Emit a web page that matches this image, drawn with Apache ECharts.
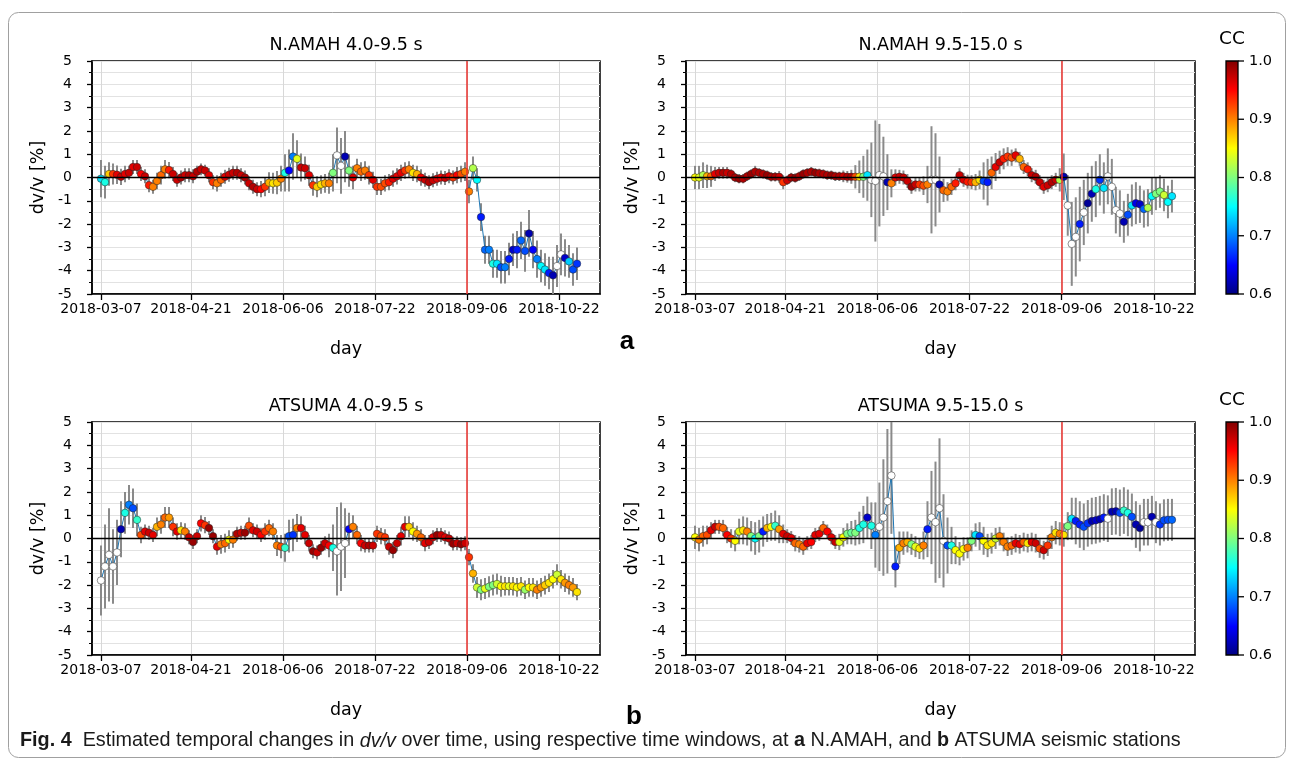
<!DOCTYPE html>
<html><head><meta charset="utf-8">
<script src="https://cdn.jsdelivr.net/npm/echarts@6/dist/echarts.min.js"></script>
<style>html,body{margin:0;padding:0;background:#fff}#c{width:1293px;height:764px}</style>
</head><body><div id="c"></div>
<script>
// x axis: days since 2018-03-07, one sample every 2 days
const startDate = '2018-03-07';
const days = [0,2,4,6,8,10,12,14,16,18,20,22,24,26,28,30,32,34,36,38,40,42,44,46,48,50,52,54,56,58,60,62,64,66,68,70,72,74,76,78,80,82,84,86,88,90,92,94,96,98,100,102,104,106,108,110,112,114,116,118,120,122,124,126,128,130,132,134,136,138,140,142,144,146,148,150,152,154,156,158,160,162,164,166,168,170,172,174,176,178,180,182,184,186,188,190,192,194,196,198,200,202,204,206,208,210,212,214,216,218,220,222,224,226,228,230,232,234,236,238];
const tickDays = [0,45,91,137,183,229];
const tickLabels = ['2018-03-07','2018-04-21','2018-06-06','2018-07-22','2018-09-06','2018-10-22'];
const eventDay = 183;
const ccMin = 0.6, ccMax = 1.0;
const ccTicks = ['1.0','0.9','0.8','0.7','0.6'];
const titles = ['N.AMAH 4.0-9.5 s','N.AMAH 9.5-15.0 s','ATSUMA 4.0-9.5 s','ATSUMA 9.5-15.0 s'];

// N.AMAH 4.0-9.5 s
const aL_v = [-0.05,-0.2,0.15,0.15,0.12,0.03,0.15,0.2,0.45,0.45,
0.15,0.05,-0.33,-0.4,-0.15,0.1,0.35,0.32,0.15,-0.1,
0.0,0.1,0.1,0.05,0.25,0.35,0.3,0.1,-0.2,-0.25,
-0.1,0.03,0.12,0.2,0.2,0.1,0.0,-0.25,-0.4,-0.5,
-0.5,-0.4,-0.22,-0.25,-0.22,-0.05,0.2,0.3,0.9,0.8,
0.43,0.4,0.1,-0.33,-0.4,-0.3,-0.25,-0.25,0.2,0.95,
0.5,0.9,0.3,0.0,0.4,0.25,0.3,0.1,-0.1,-0.4,
-0.4,-0.25,-0.2,-0.05,0.05,0.2,0.3,0.35,0.2,0.15,
0.0,-0.1,-0.2,-0.12,-0.05,0.0,-0.02,0.05,0.0,0.1,
0.15,0.25,-0.6,0.4,-0.1,-1.7,-3.1,-3.1,-3.7,-3.7,
-3.85,-3.85,-3.5,-3.1,-3.1,-2.7,-3.15,-2.4,-3.1,-3.5,
-3.8,-3.95,-4.1,-4.2,-3.8,-3.3,-3.45,-3.6,-3.95,-3.7];
const aL_cc = [0.74,0.76,0.87,0.93,0.96,0.97,0.96,0.97,0.96,0.97,
0.95,0.97,0.94,0.9,0.9,0.91,0.9,0.94,0.97,0.97,
0.98,0.97,0.98,0.97,0.98,0.97,0.97,0.96,0.93,0.9,
0.91,0.96,0.97,0.97,0.98,0.97,0.98,0.97,0.98,0.97,
0.95,0.93,0.88,0.86,0.87,0.9,0.76,0.65,0.7,0.84,
0.97,0.97,0.96,0.93,0.87,0.86,0.88,0.9,0.8,0.55,
0.55,0.62,0.8,0.96,0.9,0.91,0.9,0.93,0.96,0.93,
0.92,0.92,0.94,0.96,0.96,0.96,0.93,0.9,0.86,0.88,
0.95,0.97,0.98,0.97,0.96,0.95,0.97,0.95,0.93,0.95,
0.92,0.9,0.9,0.82,0.75,0.66,0.69,0.7,0.76,0.74,
0.68,0.7,0.66,0.63,0.66,0.69,0.68,0.62,0.65,0.7,
0.75,0.74,0.66,0.62,0.55,0.55,0.63,0.73,0.68,0.67];
const aL_err = [0.8,0.7,0.5,0.45,0.4,0.35,0.35,0.3,0.3,0.3,
0.3,0.3,0.3,0.3,0.35,0.4,0.4,0.35,0.3,0.3,
0.3,0.3,0.3,0.3,0.25,0.25,0.25,0.3,0.3,0.35,
0.3,0.3,0.3,0.3,0.3,0.3,0.3,0.3,0.3,0.3,
0.35,0.4,0.45,0.45,0.5,0.55,0.8,0.9,1.0,0.8,
0.6,0.5,0.45,0.45,0.45,0.4,0.4,0.45,0.8,1.2,
1.2,1.1,0.7,0.5,0.4,0.4,0.4,0.4,0.35,0.35,
0.35,0.35,0.35,0.35,0.35,0.35,0.35,0.35,0.35,0.35,
0.35,0.3,0.3,0.3,0.3,0.3,0.3,0.3,0.3,0.35,
0.35,0.4,0.5,0.5,0.5,0.6,0.6,0.6,0.6,0.6,
0.7,0.7,0.7,0.7,0.8,0.8,0.9,1.0,0.8,0.8,
0.7,0.7,0.7,0.8,0.9,0.9,0.8,0.7,0.7,0.7];

// N.AMAH 9.5-15.0 s
const aR_v = [0.0,0.0,0.1,0.05,0.05,0.15,0.2,0.2,0.2,0.15,
0.0,-0.05,-0.05,0.05,0.15,0.25,0.2,0.15,0.1,0.03,
0.03,0.03,-0.2,-0.12,0.0,-0.02,0.05,0.15,0.2,0.25,
0.2,0.18,0.15,0.1,0.1,0.05,0.05,0.05,0.03,0.03,
0.03,0.03,0.03,0.1,-0.1,-0.15,0.1,0.05,-0.2,-0.25,
0.0,0.03,0.0,-0.15,-0.4,-0.3,-0.3,-0.35,-0.3,-0.1,
-0.1,-0.3,-0.55,-0.6,-0.4,-0.25,0.1,-0.1,-0.18,-0.2,
-0.2,-0.1,-0.15,-0.2,0.2,0.45,0.65,0.8,0.9,0.85,
0.95,0.8,0.45,0.35,0.1,0.03,-0.2,-0.4,-0.33,-0.2,
-0.1,-0.1,0.03,-1.2,-2.85,-2.55,-2.0,-1.5,-1.1,-0.7,
-0.5,-0.1,-0.45,0.05,-0.4,-1.4,-1.55,-1.9,-1.6,-1.2,
-1.1,-1.15,-1.35,-1.3,-0.8,-0.7,-0.6,-0.75,-1.05,-0.8];
const aR_cc = [0.85,0.84,0.82,0.88,0.91,0.96,0.97,0.98,0.97,0.98,
0.98,0.99,0.98,0.98,0.99,0.98,0.98,0.98,0.99,0.98,
0.98,0.97,0.93,0.97,0.98,0.99,0.98,0.99,0.98,0.98,
0.99,0.98,0.98,0.98,0.99,0.98,0.98,0.97,0.98,0.98,
0.92,0.86,0.8,0.74,0.55,0.55,0.55,0.55,0.62,0.9,
0.96,0.97,0.97,0.97,0.99,0.97,0.93,0.92,0.9,0.55,
0.55,0.62,0.91,0.9,0.91,0.94,0.97,0.96,0.94,0.93,
0.88,0.86,0.68,0.66,0.91,0.96,0.97,0.94,0.93,0.92,
0.96,0.88,0.91,0.94,0.97,0.98,0.97,0.96,0.97,0.98,
0.97,0.82,0.62,0.55,0.55,0.55,0.66,0.55,0.61,0.62,
0.76,0.67,0.74,0.55,0.55,0.55,0.55,0.62,0.68,0.74,
0.64,0.63,0.69,0.82,0.75,0.8,0.8,0.83,0.75,0.74];
const aR_err = [0.5,0.5,0.55,0.5,0.45,0.3,0.25,0.25,0.25,0.2,
0.2,0.2,0.2,0.2,0.2,0.25,0.2,0.2,0.2,0.2,
0.2,0.25,0.3,0.2,0.2,0.2,0.2,0.2,0.2,0.2,
0.2,0.2,0.2,0.2,0.2,0.2,0.2,0.25,0.25,0.3,
0.5,0.7,0.9,1.1,1.6,2.6,2.2,1.7,1.2,0.6,
0.35,0.3,0.3,0.3,0.3,0.3,0.3,0.4,0.8,2.3,
2.0,1.2,0.5,0.4,0.35,0.3,0.3,0.3,0.3,0.3,
0.35,0.4,0.8,1.0,0.7,0.6,0.5,0.45,0.4,0.35,
0.3,0.3,0.3,0.3,0.3,0.3,0.3,0.3,0.3,0.3,
0.3,0.5,1.0,1.3,1.8,1.7,1.6,1.4,1.3,1.2,
1.2,1.1,1.1,1.2,1.2,1.0,1.0,0.9,0.9,0.9,
0.9,0.8,0.8,0.8,0.8,0.7,0.7,0.7,0.7,0.7];

// ATSUMA 4.0-9.5 s
const bL_v = [-1.8,-1.2,-0.7,-1.2,-0.6,0.4,1.1,1.45,1.3,0.8,
0.15,0.3,0.25,0.15,0.5,0.6,0.9,0.9,0.5,0.3,
0.35,0.3,0.05,-0.15,0.1,0.65,0.57,0.45,0.1,-0.35,
-0.25,-0.2,-0.05,-0.05,0.2,0.25,0.25,0.55,0.35,0.3,
0.15,0.3,0.45,0.3,-0.3,-0.35,-0.4,0.1,0.15,0.45,
0.45,0.15,-0.2,-0.55,-0.6,-0.4,-0.2,-0.3,-0.4,-0.55,
-0.35,-0.2,0.4,0.5,0.15,-0.2,-0.3,-0.3,-0.3,0.2,
0.1,0.05,-0.35,-0.5,-0.2,0.1,0.5,0.5,0.3,0.2,
0.05,-0.2,-0.15,0.05,0.15,0.15,0.05,0.0,-0.22,-0.2,
-0.25,-0.2,-0.8,-1.5,-2.1,-2.2,-2.15,-2.07,-2.0,-1.95,
-2.05,-2.05,-2.05,-2.05,-2.1,-2.05,-2.2,-2.1,-2.1,-2.2,
-2.1,-2.0,-1.9,-1.75,-1.55,-1.75,-1.9,-2.0,-2.1,-2.3];
const bL_cc = [0.5,0.5,0.5,0.5,0.5,0.62,0.76,0.7,0.68,0.77,
0.92,0.96,0.97,0.96,0.88,0.9,0.91,0.89,0.93,0.96,
0.86,0.9,0.97,0.99,0.97,0.95,0.93,0.99,0.99,0.96,
0.9,0.91,0.85,0.9,0.98,0.97,0.99,0.92,0.96,0.97,
0.95,0.93,0.91,0.9,0.9,0.92,0.77,0.68,0.67,0.9,
0.96,0.96,0.97,0.99,0.97,0.99,0.97,0.95,0.76,0.55,
0.55,0.55,0.65,0.9,0.91,0.95,0.97,0.98,0.97,0.93,
0.92,0.93,0.97,0.99,0.97,0.96,0.96,0.87,0.85,0.89,
0.91,0.96,0.97,0.96,0.99,0.97,0.96,0.97,0.99,0.97,
0.99,0.97,0.93,0.88,0.83,0.8,0.84,0.8,0.8,0.83,
0.85,0.86,0.84,0.86,0.85,0.86,0.81,0.85,0.86,0.9,
0.89,0.87,0.86,0.85,0.83,0.86,0.89,0.9,0.89,0.86];
const bL_err = [1.5,1.8,2.0,1.6,1.4,1.2,0.9,0.85,0.85,0.7,
0.35,0.3,0.3,0.3,0.4,0.4,0.45,0.45,0.4,0.35,
0.35,0.35,0.3,0.3,0.3,0.35,0.35,0.3,0.3,0.35,
0.4,0.4,0.4,0.35,0.3,0.3,0.3,0.35,0.3,0.3,
0.3,0.35,0.35,0.35,0.45,0.5,0.6,0.7,0.7,0.6,
0.5,0.4,0.35,0.3,0.3,0.3,0.3,0.5,1.0,1.9,
1.9,1.5,0.7,0.5,0.4,0.35,0.3,0.3,0.3,0.35,
0.35,0.35,0.35,0.35,0.35,0.4,0.45,0.45,0.4,0.35,
0.35,0.35,0.3,0.3,0.3,0.3,0.3,0.3,0.3,0.3,
0.3,0.3,0.35,0.4,0.45,0.45,0.45,0.45,0.45,0.45,
0.45,0.4,0.4,0.4,0.4,0.4,0.4,0.4,0.4,0.4,
0.4,0.4,0.4,0.4,0.45,0.4,0.4,0.4,0.4,0.35];

// ATSUMA 9.5-15.0 s
const bR_v = [0.05,-0.05,0.1,0.15,0.35,0.5,0.5,0.45,0.15,0.0,
-0.1,0.3,0.35,0.3,0.1,0.0,0.1,0.3,0.45,0.5,
0.55,0.4,0.2,0.1,0.02,-0.2,-0.25,-0.35,-0.2,-0.15,
0.15,0.2,0.45,0.3,0.05,-0.15,-0.15,0.05,0.2,0.25,
0.25,0.45,0.6,0.9,0.55,0.15,0.5,0.9,1.6,2.7,
-1.2,-0.4,-0.2,-0.15,-0.25,-0.35,-0.43,-0.3,0.4,0.9,
0.7,1.3,-0.1,-0.3,-0.3,-0.5,-0.65,-0.45,-0.4,-0.1,
0.15,0.1,-0.1,-0.3,-0.2,0.0,0.1,-0.15,-0.35,-0.3,
-0.2,-0.25,-0.15,-0.2,-0.15,-0.2,-0.43,-0.5,-0.3,0.05,
0.25,0.2,0.15,0.53,0.85,0.75,0.6,0.5,0.65,0.75,
0.78,0.83,0.9,0.85,1.15,1.17,1.1,1.2,1.1,0.93,
0.6,0.45,0.7,0.7,0.93,0.7,0.6,0.78,0.8,0.8];
const bR_cc = [0.85,0.9,0.91,0.92,0.96,0.97,0.92,0.91,0.95,0.93,
0.85,0.84,0.86,0.9,0.8,0.75,0.8,0.66,0.88,0.85,
0.77,0.89,0.96,0.97,0.96,0.91,0.9,0.91,0.96,0.95,
0.96,0.96,0.91,0.95,0.96,0.97,0.84,0.85,0.8,0.79,
0.8,0.76,0.76,0.63,0.76,0.7,0.55,0.55,0.55,0.55,
0.66,0.88,0.9,0.88,0.8,0.84,0.86,0.9,0.66,0.55,
0.55,0.55,0.55,0.68,0.76,0.85,0.85,0.85,0.9,0.8,
0.74,0.68,0.85,0.86,0.86,0.83,0.9,0.9,0.9,0.91,
0.96,0.96,0.91,0.86,0.96,0.97,0.92,0.97,0.93,0.9,
0.86,0.9,0.86,0.8,0.74,0.66,0.66,0.68,0.67,0.62,
0.63,0.62,0.66,0.55,0.62,0.62,0.68,0.77,0.76,0.68,
0.62,0.61,0.55,0.55,0.62,0.55,0.67,0.68,0.68,0.69];
const bR_err = [0.5,0.5,0.45,0.4,0.35,0.3,0.3,0.35,0.35,0.4,
0.45,0.55,0.6,0.6,0.65,0.7,0.7,0.65,0.6,0.6,
0.65,0.6,0.4,0.3,0.3,0.35,0.35,0.35,0.3,0.3,
0.3,0.3,0.3,0.3,0.3,0.3,0.35,0.4,0.45,0.5,
0.55,0.7,0.8,0.9,1.0,1.4,1.9,2.5,3.1,2.5,
0.9,0.7,0.5,0.45,0.45,0.45,0.45,0.6,1.2,2.0,
2.6,3.0,2.0,1.2,0.8,0.6,0.5,0.5,0.45,0.45,
0.5,0.6,0.6,0.5,0.45,0.45,0.4,0.4,0.4,0.4,
0.4,0.4,0.4,0.4,0.4,0.4,0.4,0.4,0.45,0.5,
0.5,0.5,0.5,0.6,0.9,1.0,1.0,1.0,1.0,1.0,
1.0,1.0,1.0,1.0,1.0,1.0,1.0,1.0,1.0,1.0,
1.0,1.0,1.0,1.0,0.9,0.9,0.9,0.9,0.9,0.9];

const panels = [
  {v: aL_v, cc: aL_cc, err: aL_err},
  {v: aR_v, cc: aR_cc, err: aR_err},
  {v: bL_v, cc: bL_cc, err: bL_err},
  {v: bR_v, cc: bR_cc, err: bR_err}
];

function clamp01(x){return Math.max(0, Math.min(1, x));}
function jet(t){
  const r = clamp01(Math.min(4*t-1.5, -4*t+4.5));
  const g = clamp01(Math.min(4*t-0.5, -4*t+3.5));
  const b = clamp01(Math.min(4*t+0.5, -4*t+2.5));
  return 'rgb(' + Math.round(r*255) + ',' + Math.round(g*255) + ',' + Math.round(b*255) + ')';
}
function ccColor(c){
  if (c < ccMin) return '#ffffff';
  return jet((c - ccMin) / (ccMax - ccMin));
}
const jetStops = [];
for (let i = 0; i <= 40; i++) jetStops.push({offset: i/40, color: jet(1 - i/40)});

const FONT = 'DejaVu Sans';
const grids = [
  {left: 92, top: 61, width: 508, height: 233},
  {left: 686, top: 61, width: 509, height: 233},
  {left: 92, top: 422, width: 508, height: 233},
  {left: 686, top: 422, width: 509, height: 233}
];

const chart = echarts.init(document.getElementById('c'), null, {renderer: 'canvas'});
const option = {
  animation: false,
  backgroundColor: '#fff',
  grid: grids.map(g => Object.assign({show: true, borderColor: '#000', borderWidth: 1.5, backgroundColor: 'transparent'}, g)),
  xAxis: grids.map((g, i) => ({
    type: 'value', gridIndex: i, min: -4.5, max: 249.5,
    axisLine: {show: true, onZero: false, lineStyle: {color: '#000', width: 1.5}},
    axisTick: {show: true, customValues: tickDays, length: 6, lineStyle: {color: '#000', width: 1.3}},
    axisLabel: {show: true, customValues: tickDays, margin: 8, fontSize: 14, fontFamily: FONT, color: '#000',
      formatter: v => tickLabels[tickDays.indexOf(Math.round(v))] || ''},
    splitLine: {show: true, lineStyle: {color: '#d8d8d8', width: 1}}
  })),
  yAxis: grids.map((g, i) => ({
    type: 'value', gridIndex: i, min: -5, max: 5, interval: 1,
    axisLine: {show: true, onZero: false, lineStyle: {color: '#000', width: 1.5}},
    axisTick: {show: true, length: 5, lineStyle: {color: '#000', width: 1.3}},
    minorTick: {show: true, splitNumber: 2, length: 3, lineStyle: {color: '#000', width: 1}},
    axisLabel: {margin: 20, fontSize: 14, fontFamily: FONT, color: '#000'},
    splitLine: {show: true, lineStyle: {color: '#e2e2e2', width: 1}},
    minorSplitLine: {show: true, lineStyle: {color: '#e2e2e2', width: 1}}
  })),
  series: [],
  graphic: []
};

panels.forEach((p, i) => {
  const pts = days.map((d, k) => [d, p.v[k], p.cc[k], p.err[k]]);
  option.series.push({
    type: 'custom', xAxisIndex: i, yAxisIndex: i, clip: true, z: 2, silent: true,
    data: pts,
    renderItem: function(params, api) {
      const x = api.value(0), v = api.value(1), e = api.value(3);
      const p1 = api.coord([x, v - e]);
      const p2 = api.coord([x, v + e]);
      return {type: 'line', shape: {x1: p1[0], y1: p1[1], x2: p2[0], y2: p2[1]},
        style: {stroke: '#8a8a8a', lineWidth: 2}};
    }
  });
  option.series.push({
    type: 'line', xAxisIndex: i, yAxisIndex: i, z: 3, silent: true,
    data: pts.map(q => [q[0], q[1]]), showSymbol: false, symbol: 'none',
    lineStyle: {color: '#1f77b4', width: 1},
    markLine: {silent: true, symbol: 'none', label: {show: false}, animation: false,
      data: [
        {yAxis: 0, lineStyle: {color: '#000', width: 1.3, type: 'solid'}},
        {xAxis: eventDay, lineStyle: {color: '#e8302c', width: 1.5, type: 'solid'}}
      ]}
  });
  option.series.push({
    type: 'scatter', xAxisIndex: i, yAxisIndex: i, z: 4, silent: true,
    data: pts.map(q => ({value: [q[0], q[1], q[2]], itemStyle: {color: ccColor(q[2])}})),
    symbolSize: 7.5,
    itemStyle: {borderColor: '#222', borderWidth: 0.5, opacity: 1}
  });
});

// texts and decorations
const G = option.graphic;
G.push({type: 'rect', shape: {x: 8.5, y: 12.5, width: 1277, height: 745, r: 10}, style: {fill: 'none', stroke: '#a0a0a0', lineWidth: 1}, z: 0});
grids.forEach((g, i) => {
  const cx = g.left + g.width / 2;
  const cy = g.top + g.height / 2;
  G.push({type: 'text', x: cx, y: g.top - 16, style: {text: titles[i], fontSize: 17.5, fontFamily: FONT, fill: '#000', align: 'center', verticalAlign: 'middle'}});
  G.push({type: 'text', x: cx, y: g.top + g.height + 55, style: {text: 'day', fontSize: 17.5, fontFamily: FONT, fill: '#000', align: 'center', verticalAlign: 'middle'}});
  G.push({type: 'text', x: g.left - 54, y: cy, rotation: Math.PI / 2, style: {text: 'dv/v [%]', fontSize: 17.5, fontFamily: FONT, fill: '#000', align: 'center', verticalAlign: 'middle'}});
});
// colorbars
[grids[1], grids[3]].forEach(g => {
  const x0 = 1226, w = 12, y0 = g.top, h = g.height;
  G.push({type: 'rect', shape: {x: x0, y: y0, width: w, height: h},
    style: {fill: new echarts.graphic.LinearGradient(0, 0, 0, 1, jetStops), stroke: '#000', lineWidth: 1.3}});
  G.push({type: 'text', x: x0 + w / 2, y: y0 - 22, style: {text: 'CC', fontSize: 18.5, fontFamily: FONT, fill: '#000', align: 'center', verticalAlign: 'middle'}});
  ccTicks.forEach((t, k) => {
    const yy = y0 + h * k / (ccTicks.length - 1);
    G.push({type: 'line', shape: {x1: x0 + w, y1: yy, x2: x0 + w + 6, y2: yy}, style: {stroke: '#000', lineWidth: 1.3}});
    G.push({type: 'text', x: x0 + w + 11, y: yy, style: {text: t, fontSize: 14.5, fontFamily: FONT, fill: '#000', align: 'left', verticalAlign: 'middle'}});
  });
});
G.push({type: 'text', x: 627, y: 342, style: {text: 'a', fontSize: 26, fontWeight: 'bold', fontFamily: 'Liberation Sans', fill: '#000', align: 'center', verticalAlign: 'middle'}});
G.push({type: 'text', x: 634, y: 717, style: {text: 'b', fontSize: 26, fontWeight: 'bold', fontFamily: 'Liberation Sans', fill: '#000', align: 'center', verticalAlign: 'middle'}});
G.push({type: 'text', x: 20, y: 741, style: {
  text: '{b|Fig. 4}  Estimated temporal changes in {i|dv/v} over time, using respective time windows, at {b|a} N.AMAH, and {b|b} ATSUMA seismic stations',
  fontSize: 19.8, fontFamily: 'Liberation Sans', fill: '#1a1a1a', align: 'left', verticalAlign: 'middle',
  rich: {
    b: {fontWeight: 'bold', fontSize: 19.8, fontFamily: 'Liberation Sans', fill: '#1a1a1a'},
    i: {fontStyle: 'italic', fontSize: 19.8, fontFamily: 'Liberation Sans', fill: '#1a1a1a'}
  }}});

chart.setOption(option);
</script></body></html>
